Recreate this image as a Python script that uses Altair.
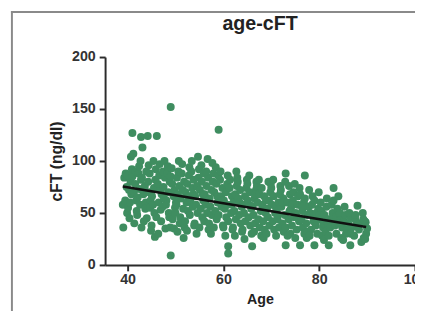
import altair as alt
import pandas as pd

# ages (years) of each subject, grouped by year of age
age = [
    39.0, 39.5, 39.8, 39.3, 39.6, 39.1, 39.9,
    40.1, 40.5, 40.8, 40.3, 40.6, 40.0, 40.9, 40.4, 40.7,
    41.0, 41.2, 41.8, 41.3, 41.6, 41.0, 41.9, 41.4, 41.7,
    42.1, 42.5, 42.8, 42.3, 42.6, 42.0, 42.9, 42.4, 42.7,
    42.8, 43.1, 43.8, 43.3, 43.6, 43.0, 43.9, 43.4, 43.7,
    44.2, 44.5, 44.8, 44.3, 44.6, 44.0, 44.9, 44.4, 44.7,
    45.1, 45.5, 45.8, 45.3, 45.6, 45.0, 45.9, 45.4, 45.7,
    46.1, 46.5, 46.8, 46.3, 46.6, 46.0, 46.9, 46.4, 46.7,
    47.1, 47.5, 47.8, 47.3, 47.6, 47.0, 47.9, 47.4, 47.7,
    48.1, 48.5, 48.8, 48.3, 48.6, 48.0, 48.9, 48.4, 48.7,
    49.0, 49.0, 49.8, 49.3, 49.6, 49.0, 49.9, 49.4, 49.7, 49.2,
    50.1, 50.5, 50.8, 50.3, 50.6, 50.0, 50.9, 50.4, 50.7, 50.2,
    51.1, 51.5, 51.8, 51.3, 51.6, 51.0, 51.9, 51.4, 51.7,
    52.1, 52.5, 52.8, 52.3, 52.6, 52.0, 52.9, 52.4, 52.7,
    53.1, 53.5, 53.8, 53.3, 53.6, 53.0, 53.9, 53.4, 53.7,
    54.1, 54.5, 54.8, 54.3, 54.6, 54.0, 54.9, 54.4, 54.7,
    55.1, 55.5, 55.8, 55.3, 55.6, 55.0, 55.9, 55.4, 55.7,
    56.1, 56.5, 56.8, 56.3, 56.6, 56.0, 56.9, 56.4, 56.7,
    57.1, 57.5, 57.8, 57.3, 57.6, 57.0, 57.9, 57.4, 57.7,
    58.1, 58.5, 58.8, 58.3, 58.6, 58.0, 58.9, 58.4, 58.7,
    59.0, 59.5, 59.8, 59.3, 59.6, 59.0, 59.9, 59.4, 59.7,
    60.1, 60.5, 60.8, 60.3, 60.6, 60.0, 60.9, 60.4, 60.7,
    61.0, 61.0, 61.8, 61.3, 61.6, 61.0, 61.9, 61.4, 61.7,
    62.1, 62.5, 62.8, 62.3, 62.6, 62.0, 62.9, 62.4, 62.7,
    63.1, 63.5, 63.8, 63.3, 63.6, 63.0, 63.9, 63.4,
    64.1, 64.5, 64.8, 64.3, 64.6, 64.0, 64.9, 64.4,
    65.1, 65.5, 65.8, 65.3, 65.6, 65.0, 65.9, 65.4, 65.7,
    66.1, 66.5, 66.8, 66.3, 66.6, 66.0, 66.9, 66.4, 66.7,
    67.1, 67.5, 67.8, 67.3, 67.6, 67.0, 67.9, 67.4,
    68.1, 68.5, 68.8, 68.3, 68.6, 68.0, 68.9, 68.4,
    69.1, 69.5, 69.8, 69.3, 69.6, 69.0, 69.9, 69.4,
    70.1, 70.5, 70.8, 70.3, 70.6, 70.0, 70.9, 70.4,
    71.1, 71.5, 71.8, 71.3, 71.6, 71.0, 71.9, 71.4,
    72.1, 72.5, 72.8, 72.3, 72.6, 72.0, 72.9, 72.4,
    73.0, 73.0, 73.8, 73.3, 73.6, 73.0, 73.9, 73.4, 73.7,
    74.1, 74.5, 74.8, 74.3, 74.6, 74.0, 74.9, 74.4,
    75.1, 75.5, 75.8, 75.3, 75.6, 75.0, 75.9, 75.4,
    76.0, 76.5, 76.8, 76.3, 76.6, 76.0, 76.9, 76.4,
    77.0, 77.5, 77.8, 77.3, 77.6, 77.0, 77.9, 77.4,
    78.1, 78.5, 78.8, 78.3, 78.6, 78.0, 78.9,
    79.0, 79.5, 79.8, 79.3, 79.6, 79.0, 79.9, 79.4,
    80.1, 80.5, 80.8, 80.3, 80.6, 80.0, 80.9,
    81.1, 81.5, 81.8, 81.3, 81.6, 81.0, 81.9,
    82.0, 82.5, 82.8, 82.3, 82.6, 82.0, 82.9,
    83.0, 83.5, 83.8, 83.3, 83.6, 83.0,
    84.0, 84.5, 84.8, 84.3, 84.6, 84.0,
    85.1, 85.5, 85.8, 85.3, 85.6, 85.0,
    86.1, 86.5, 86.8, 86.3, 86.6,
    86.5, 87.5, 87.8, 87.3, 87.6,
    88.0, 88.5, 88.8, 88.3,
    89.1, 89.5, 89.8, 89.3,
    89.7, 89.6, 90.0, 89.2,
]

# calculated free testosterone (ng/dl), same order as age
cft = [
    58, 62, 75, 84, 88, 36, 50,
    55, 60, 68, 72, 80, 86, 92, 45, 104,
    127, 107, 62, 70, 78, 85, 52, 40, 90,
    65, 73, 82, 88, 58, 48, 36, 95, 100,
    123, 113, 60, 68, 76, 84, 90, 42, 54,
    124, 70, 62, 80, 88, 45, 33, 96, 55,
    66, 74, 82, 58, 50, 38, 92, 100, 27,
    124, 60, 72, 78, 86, 46, 53, 30, 97,
    68, 75, 84, 56, 64, 42, 35, 90, 100,
    62, 70, 80, 88, 50, 58, 36, 95, 46,
    152, 9, 72, 78, 66, 85, 55, 44, 35, 93,
    60, 68, 76, 84, 90, 50, 40, 32, 100, 58,
    64, 72, 80, 88, 54, 46, 36, 97, 26,
    70, 78, 86, 60, 52, 42, 94, 33, 66,
    62, 74, 82, 90, 56, 48, 38, 100, 68,
    66, 76, 84, 58, 50, 40, 92, 30, 104,
    72, 80, 62, 54, 46, 36, 88, 96, 68,
    68, 76, 84, 58, 50, 42, 34, 90, 102,
    64, 72, 80, 56, 48, 40, 88, 30, 98,
    70, 78, 60, 52, 44, 36, 86, 94, 66,
    130, 66, 74, 82, 56, 48, 38, 90, 62,
    62, 70, 78, 54, 46, 36, 86, 28, 58,
    18, 11, 66, 74, 50, 42, 34, 82, 58,
    60, 68, 76, 52, 44, 36, 84, 28, 90,
    64, 72, 56, 48, 40, 80, 32, 60,
    58, 66, 74, 50, 42, 34, 82, 25,
    62, 70, 54, 46, 38, 78, 30, 86, 57,
    56, 64, 72, 48, 40, 18, 80, 32, 68,
    60, 68, 52, 44, 36, 76, 28, 82,
    58, 66, 50, 42, 34, 74, 62, 26,
    54, 62, 70, 46, 38, 30, 78, 80,
    58, 66, 50, 42, 34, 74, 56, 82,
    52, 60, 68, 44, 36, 28, 76, 48,
    56, 64, 48, 40, 32, 72, 80, 60,
    88, 19, 52, 60, 44, 36, 68, 28, 76,
    54, 62, 46, 38, 70, 30, 78, 58,
    50, 58, 42, 34, 66, 26, 74, 46,
    19, 52, 60, 44, 36, 68, 30, 56,
    86, 48, 56, 40, 32, 64, 72, 26,
    50, 58, 42, 34, 66, 28, 46,
    19, 46, 54, 38, 30, 62, 70, 50,
    44, 52, 36, 60, 28, 48, 40,
    48, 56, 40, 32, 64, 24, 44,
    19, 42, 50, 36, 58, 28, 46,
    74, 46, 54, 38, 30, 62,
    66, 44, 36, 50, 26, 40,
    42, 48, 34, 56, 30, 24,
    40, 46, 36, 50, 30,
    19, 44, 38, 28, 48,
    57, 40, 22, 34,
    50, 42, 30, 26,
    41, 25, 35, 44,
]

# fitted regression line end points
line_age = [39.0, 89.8]
line_cft = [75.5, 36.5]

x_ticks = [40, 60, 80, 100]
y_ticks = [0, 50, 100, 150, 200]

W, H = 316, 212
PAD_L, PAD_T, PAD_R, PAD_B = 99, 47, 0, 47

df = pd.DataFrame({"Age": age, "cFT": cft})
line_df = pd.DataFrame({"Age": line_age, "cFT": line_cft})

FONT = "Liberation Sans"
AX = dict(
    grid=False,
    domainColor="#2b2b2b",
    domainWidth=2,
    tickColor="#2b2b2b",
    tickWidth=2,
    tickSize=6,
    labelFont=FONT,
    labelFontWeight="bold",
    labelFontSize=14.5,
    labelColor="#333333",
    titleFont=FONT,
    titleFontWeight="bold",
    titleColor="#222222",
    labelFlush=False,
    labelOverlap=False,
)

x_scale = alt.Scale(domain=[35.3, 100], nice=False, zero=False)
y_scale = alt.Scale(domain=[0, 200], nice=False, zero=False)

points = alt.Chart(df).mark_circle(size=66, color="#3f8d60", opacity=1).encode(
    x=alt.X("Age:Q", scale=x_scale,
            axis=alt.Axis(values=x_ticks, title="Age", titleFontSize=14.5,
                          labelPadding=2, titlePadding=7, **AX)),
    y=alt.Y("cFT:Q", scale=y_scale,
            axis=alt.Axis(values=y_ticks, title="cFT (ng/dl)", titleFontSize=16,
                          labelPadding=4, titlePadding=7, **AX)),
)

reg = alt.Chart(line_df).mark_line(color="#111111", strokeWidth=2.5).encode(
    x=alt.X("Age:Q", scale=x_scale),
    y=alt.Y("cFT:Q", scale=y_scale),
)

frame_df = pd.DataFrame({"k": [0]})
frame_top = alt.Chart(frame_df).mark_rect(color="#8a8a8a", opacity=1).encode(
    x=alt.value(3 - PAD_L), x2=alt.value(W),
    y=alt.value(0 - PAD_T), y2=alt.value(2 - PAD_T),
)
frame_left = alt.Chart(frame_df).mark_rect(color="#8a8a8a", opacity=1).encode(
    x=alt.value(3 - PAD_L), x2=alt.value(5 - PAD_L),
    y=alt.value(0 - PAD_T), y2=alt.value(H + PAD_B),
)

chart = alt.layer(frame_top, frame_left, points, reg).properties(
    width=W,
    height=H,
    padding={"left": PAD_L, "top": PAD_T, "right": PAD_R, "bottom": PAD_B},
    autosize=alt.AutoSizeParams(type="none"),
    title=alt.TitleParams("age-cFT", font=FONT, fontSize=20, fontWeight="bold",
                          color="#222222", anchor="middle", offset=-23),
    background="white",
).configure_view(stroke=None)

chart.save("out.html", embed_options={"renderer": "svg", "actions": False})
